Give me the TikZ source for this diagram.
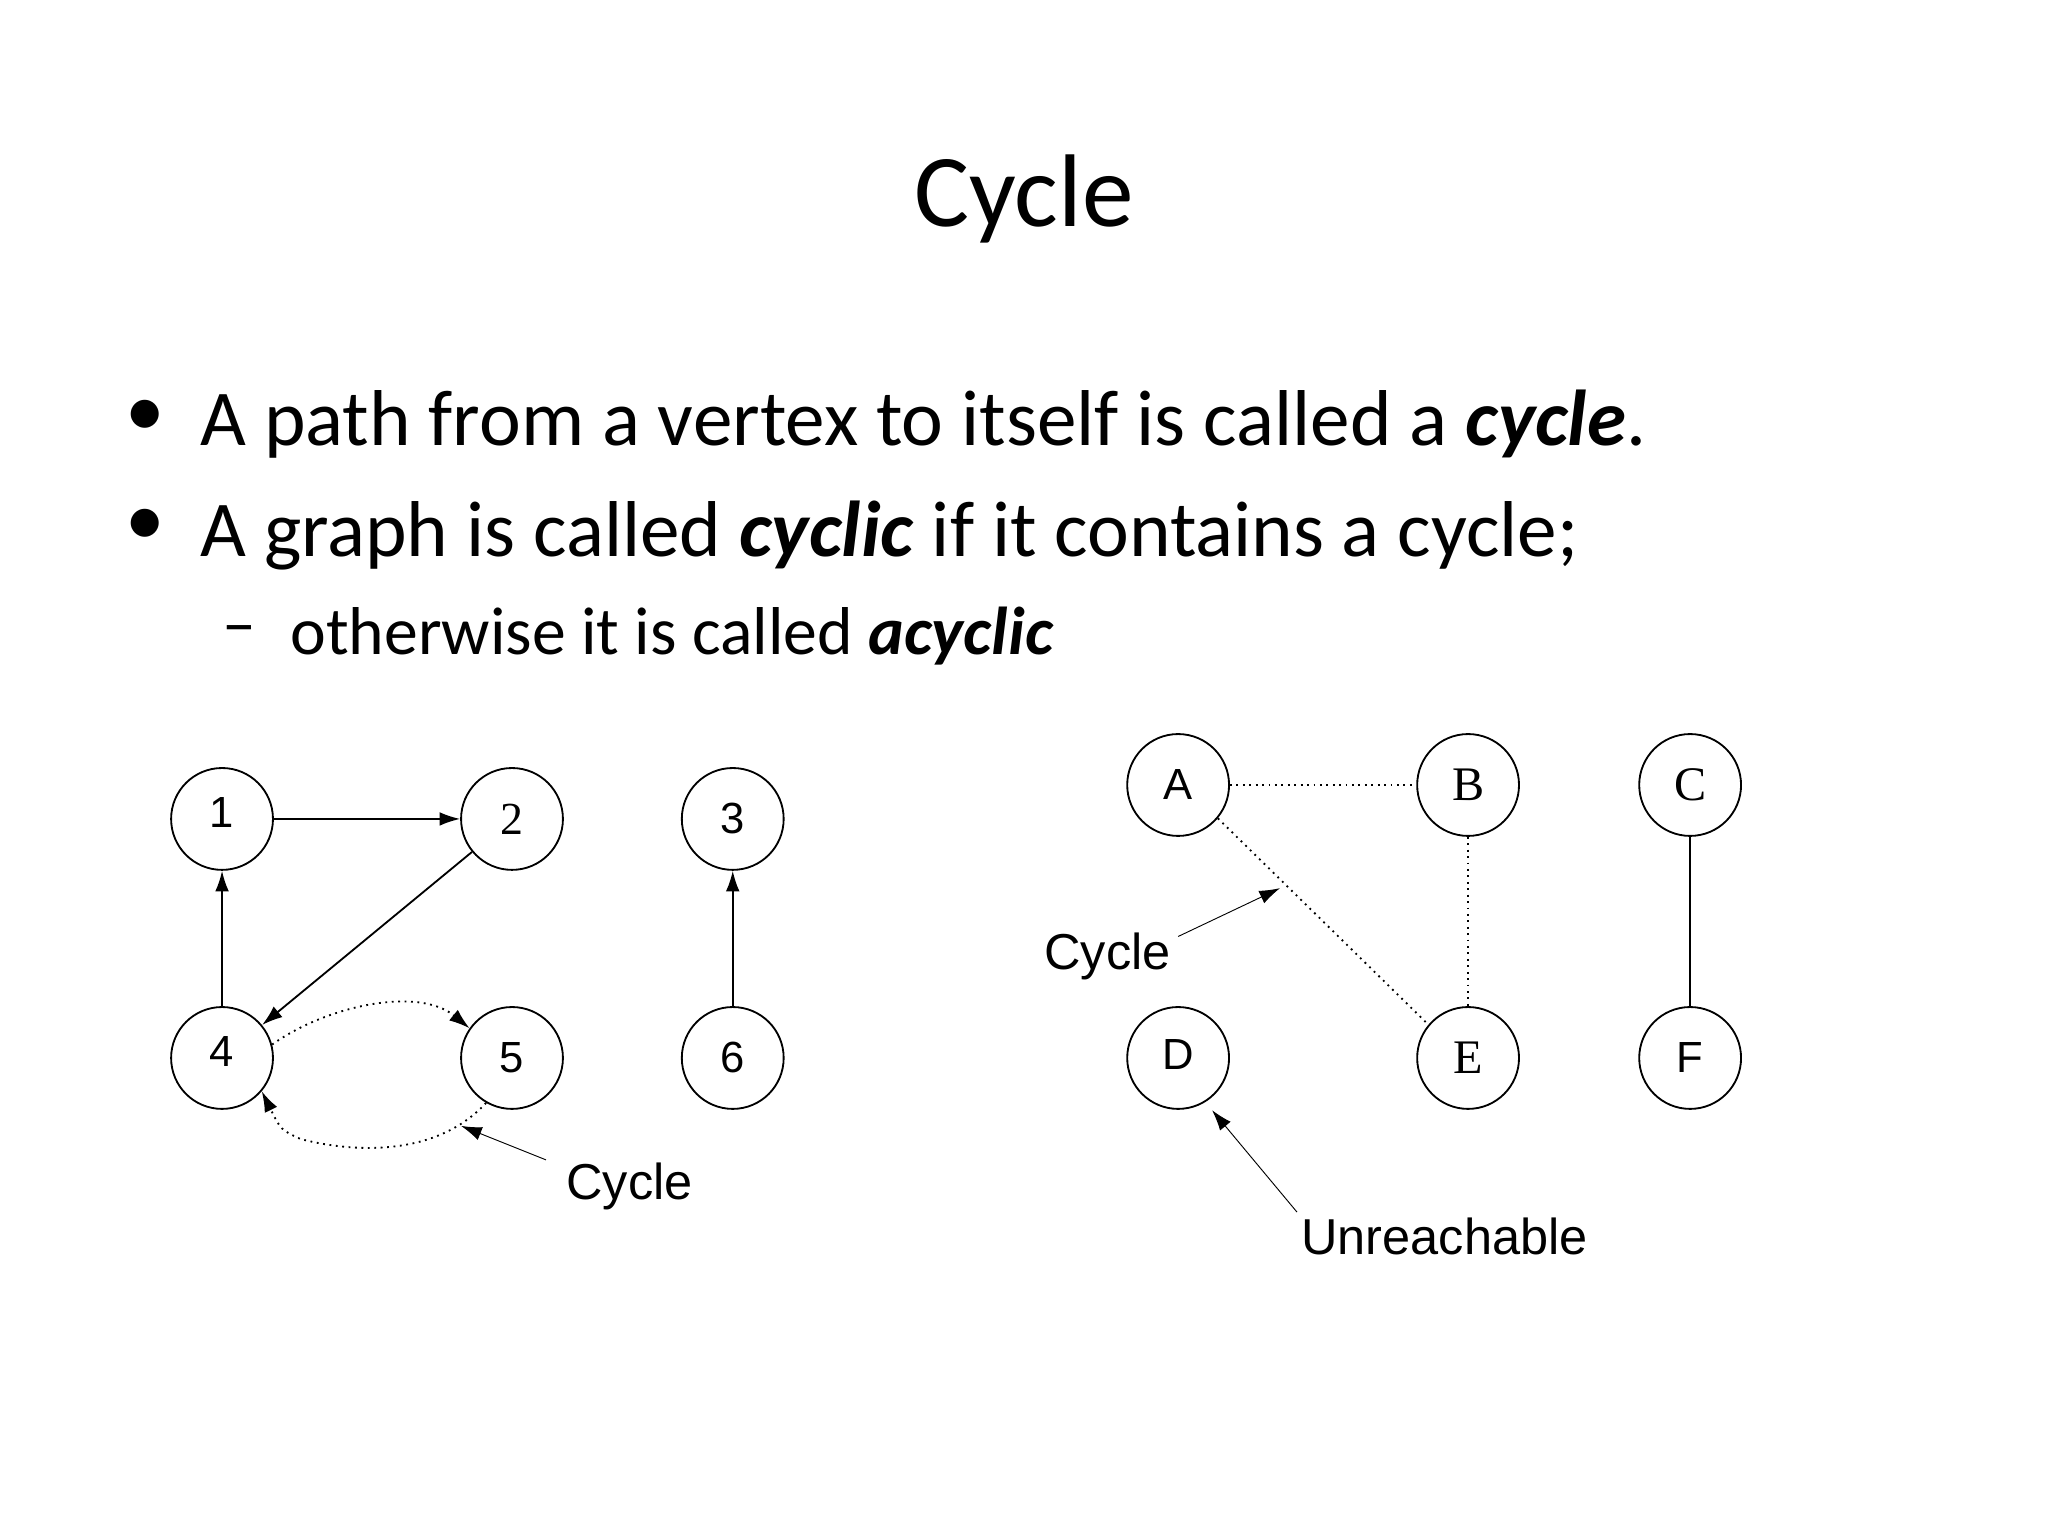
\documentclass[tikz,border=0pt]{standalone}
\usepackage{fontspec}
\setmainfont{Carlito}
\newfontfamily\arial{Liberation Sans}
\newfontfamily\tnr{Liberation Serif}
\usetikzlibrary{arrows.meta}
\begin{document}
\begin{tikzpicture}[x=0.02cm,y=-0.02cm,
  vtx/.style={circle,draw,thick,minimum size=1.56cm,inner sep=0pt,font=\arial\fontsize{19}{22}\selectfont},
  edge/.style={thick,-{Latex[length=9pt,width=6pt]}},
  dotedge/.style={thick,dotted},
  lbl/.style={font=\arial\fontsize{22}{26}\selectfont},
  bul/.style={anchor=west,inner sep=0pt,font=\fontsize{34.5}{40}\selectfont}]
\useasboundingbox (0,0) rectangle (1568,1176);
\node[font=\fontsize{45}{54}\selectfont] (title) at (784,152) {Cycle};
\node[bul] (d1) at (96,320) {•};
\node[bul] (b1) at (153,325) {A path from a vertex to itself is called a \textbf{\textit{cycle}}.};
\node[bul] (d2) at (96,404) {•};
\node[bul] (b2) at (153,410) {A graph is called \textbf{\textit{cyclic}} if it contains a cycle;};
\node[bul,font=\fontsize{29.5}{34}\selectfont] (d3) at (170,487) {–};
\node[bul,font=\fontsize{29.5}{34}\selectfont] (b3) at (222,487) {otherwise it is called \textbf{\textit{acyclic}}};
\node[vtx] (n1) at (170,627) {\raisebox{6pt}{1}};
\node[vtx,font=\tnr\fontsize{20}{24}\selectfont] (n2) at (392,627) {\raisebox{-4pt}{2}};
\node[vtx] (n3) at (561,627) {3};
\node[vtx] (n4) at (170,810) {\raisebox{6pt}{4}};
\node[vtx] (n5) at (392,810) {\raisebox{-4pt}{5}};
\node[vtx] (n6) at (561,810) {6};
\draw[edge] (n1) -- (n2);
\draw[edge] (n2) -- (n4);
\draw[edge] (n4) -- (n1);
\draw[edge] (n6) -- (n3);
\draw[dotedge,-{Latex[length=9pt,width=6pt]}] (n4.15) .. controls (250,770) and (320,755) .. (n5.145);
\draw[dotedge,-{Latex[length=9pt,width=6pt]}] (n5.-120) .. controls (330,890) and (260,880) .. (230,872) .. controls (215,865) .. (n4.-40);
\node[lbl] (c1) at (482,908) {Cycle};
\draw[edge,thin] (418,888) -- (353,862);
\node[vtx] (A) at (902,601) {A};
\node[vtx,font=\tnr\fontsize{21}{24}\selectfont] (B) at (1124,601) {\raisebox{-3pt}{B}};
\node[vtx,font=\tnr\fontsize{21}{24}\selectfont] (C) at (1294,601) {\raisebox{-3pt}{C}};
\node[vtx] (D) at (902,810) {\raisebox{3pt}{D}};
\node[vtx,font=\tnr\fontsize{21}{24}\selectfont] (E) at (1124,810) {\raisebox{-5pt}{E}};
\node[vtx] (F) at (1294,810) {F};
\draw[dotedge] (A) -- (B);
\draw[dotedge] (A.-40) -- (E.140);
\draw[dotedge] (B) -- (E);
\draw[thick] (C) -- (F);
\node[lbl] (c2) at (848,732) {Cycle};
\draw[edge,thin] (902,717) -- (980,680);
\node[lbl] (u) at (1106,947) {Unreachable};
\draw[edge,thin] (993,928) -- (928,850);
\end{tikzpicture}
\end{document}
